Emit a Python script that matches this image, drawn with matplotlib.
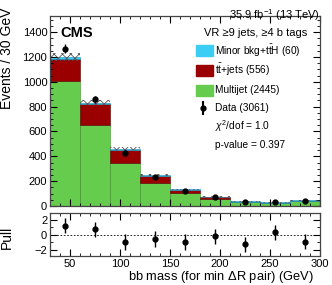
import numpy as np
import matplotlib
matplotlib.use("Agg")
import matplotlib.pyplot as plt
from matplotlib.ticker import MultipleLocator

plt.rcParams['font.family'] = ['Liberation Sans', 'DejaVu Sans']
plt.rcParams['mathtext.fontset'] = 'custom'
plt.rcParams['mathtext.rm'] = 'Liberation Sans'
plt.rcParams['mathtext.it'] = 'Liberation Sans:italic'
plt.rcParams['hatch.linewidth'] = 0.6

# bins of bb mass (GeV)
edges = np.arange(30, 301, 30)
centers = (edges[:-1] + edges[1:]) / 2

multijet = [1005, 655, 343, 187, 105, 59, 29, 25, 37]
ttjets = [177, 163, 106, 55, 26, 12, 7, 3, 7]
minor = [18, 15, 11, 7, 4, 2, 1, 1, 1]
unc = [30, 20, 12, 8, 5, 4, 3, 3, 3]
data = [1268, 858, 430, 237, 121, 69, 36, 30, 38]
pulls = [1.2, 0.75, -0.95, -0.55, -0.95, -0.2, -1.25, 0.35, -0.9]

c_multi = '#66cc4d'
c_tt = '#9b0000'
c_minor = '#3ccdf5'

fig = plt.figure(figsize=(3.32, 2.85), dpi=100)
ax = fig.add_axes([0.1506, 0.2772, 0.8133, 0.6667])
axp = fig.add_axes([0.1506, 0.1018, 0.8133, 0.1509])

multijet = np.array(multijet)
ttjets = np.array(ttjets)
minor = np.array(minor)
unc = np.array(unc)
total = multijet + ttjets + minor

ax.bar(edges[:-1], multijet, width=30, align='edge', color=c_multi,
       edgecolor='#3c8a2a', linewidth=0.4)
ax.bar(edges[:-1], ttjets, bottom=multijet, width=30, align='edge',
       color=c_tt, edgecolor='#550000', linewidth=0.4)
ax.bar(edges[:-1], minor, bottom=multijet + ttjets, width=30, align='edge',
       color=c_minor, edgecolor='#1a8fbf', linewidth=0.4)
ax.bar(edges[:-1], 2 * unc, bottom=total - unc, width=30, align='edge',
       color='none', edgecolor='#555555', hatch='xxxx', linewidth=0)
ax.errorbar(centers, data, yerr=np.sqrt(data), fmt='o', color='black',
            markersize=3.5, elinewidth=1, capsize=0)

ax.set_xlim(30, 300)
ax.set_ylim(0, 1530)
ax.set_ylabel('Events / 30 GeV', fontsize=10, loc='top')
ax.yaxis.set_label_coords(-0.135, 1.045)
ax.xaxis.set_major_locator(MultipleLocator(50))
ax.xaxis.set_minor_locator(MultipleLocator(10))
ax.yaxis.set_major_locator(MultipleLocator(200))
ax.yaxis.set_minor_locator(MultipleLocator(50))
ax.tick_params(axis='x', labelbottom=False)

for a in (ax, axp):
    a.tick_params(which='both', direction='in', top=True, right=True,
                  labelsize=8, pad=2, colors='black')
    a.tick_params(which='major', length=5)
    a.tick_params(which='minor', length=2.5)
    for s in a.spines.values():
        s.set_linewidth(0.9)
        s.set_color('#444444')

ax.text(0.04, 0.91, 'CMS', transform=ax.transAxes, fontsize=10.5,
        fontweight='bold', va='center', ha='left')
fig.text(0.963, 0.975, r'35.9 fb$^{-1}$ (13 TeV)', fontsize=8,
         ha='right', va='top')

# legend drawn by hand
tx = 0.611
fs = 7.3
ax.text(0.952, 0.911, 'VR \u22659 jets, \u22654 b tags', transform=ax.transAxes,
        fontsize=8, ha='right', va='center')
rows = [
    (c_minor, r'Minor bkg+$\mathrm{t}\bar{\mathrm{t}}$H (60)', 0.818),
    (c_tt, r'$\mathrm{t}\bar{\mathrm{t}}$+jets (556)', 0.714),
    (c_multi, 'Multijet (2445)', 0.61),
]
for col, lab, yy in rows:
    ax.add_patch(plt.Rectangle((0.541, yy - 0.029), 0.062, 0.058, color=col,
                               transform=ax.transAxes))
    ax.text(tx, yy, lab, transform=ax.transAxes, fontsize=fs, va='center')
ax.errorbar([0.568], [0.515], yerr=[0.035], fmt='o', color='black',
            markersize=3.5, transform=ax.transAxes, capsize=0)
ax.text(tx, 0.515, 'Data (3061)', transform=ax.transAxes, fontsize=fs,
        va='center')
ax.text(tx, 0.42, r'$\chi^2$/dof = 1.0', transform=ax.transAxes, fontsize=fs,
        va='center')
ax.text(tx, 0.319, 'p-value = 0.397', transform=ax.transAxes, fontsize=fs,
        va='center')

# pull panel
axp.errorbar(centers, pulls, yerr=1.0, fmt='o', color='black',
             markersize=3.5, elinewidth=1, capsize=0)
axp.axhline(0, color='black', linestyle=(0, (2, 2)), linewidth=0.6)
axp.set_xlim(30, 300)
axp.set_ylim(-2.8, 2.9)
axp.xaxis.set_major_locator(MultipleLocator(50))
axp.xaxis.set_minor_locator(MultipleLocator(10))
axp.yaxis.set_major_locator(MultipleLocator(2))
axp.yaxis.set_minor_locator(MultipleLocator(1))
axp.set_ylabel('Pull', fontsize=10)
axp.yaxis.set_label_coords(-0.135, 0.43)
axp.set_xlabel(r'bb mass (for min $\Delta$R pair) (GeV)', fontsize=9.3)
axp.xaxis.set_label_coords(0.978, -0.30)
axp.xaxis.label.set_ha('right')

fig.savefig('out.png', dpi=100)
